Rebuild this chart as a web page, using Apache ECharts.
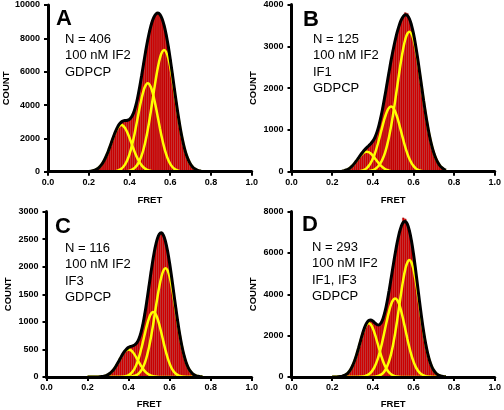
<!DOCTYPE html>
<html><head><meta charset="utf-8">
<script src="https://cdn.jsdelivr.net/npm/echarts@6/dist/echarts.min.js"></script>
<style>html,body{margin:0;padding:0;background:#fff}#c{width:504px;height:410px}</style>
</head><body><div id="c"></div>
<script>
// FRET bin centres (0.01 wide bins)
const fret = [0.20,0.21,0.22,0.23,0.24,0.25,0.26,0.27,0.28,0.29,
  0.30,0.31,0.32,0.33,0.34,0.35,0.36,0.37,0.38,0.39,
  0.40,0.41,0.42,0.43,0.44,0.45,0.46,0.47,0.48,0.49,
  0.50,0.51,0.52,0.53,0.54,0.55,0.56,0.57,0.58,0.59,
  0.60,0.61,0.62,0.63,0.64,0.65,0.66,0.67,0.68,0.69,
  0.70,0.71,0.72,0.73,0.74,0.75,0.76];

const panelLetters = ['A','B','C','D'];
const notesA = ['N = 406','100 nM IF2','GDPCP'];
const notesB = ['N = 125','100 nM IF2','IF1','GDPCP'];
const notesC = ['N = 116','100 nM IF2','IF3','GDPCP'];
const notesD = ['N = 293','100 nM IF2','IF1, IF3','GDPCP'];
const countMax = [10000, 4000, 3000, 8000];
const countStep = [2000, 1000, 500, 2000];
const fretTicks = [0.0, 0.2, 0.4, 0.6, 0.8, 1.0];

// Panel A
const countsA = [17,31,56,95,157,249,378,554,778,1050,
  1368,1708,2049,2370,2642,2850,2980,3050,3074,3088,
  3143,3283,3527,3916,4440,5081,5790,6535,7264,7928,
  8499,8953,9276,9462,9514,9416,9171,8773,8232,7549,
  6765,5903,5013,4136,3307,2565,1929,1402,986,679,
  445,285,175,110,61,34,18];
const fitA = [17,31,56,95,157,249,378,554,778,1050,
  1368,1708,2049,2370,2642,2850,2980,3050,3074,3088,
  3143,3283,3527,3916,4440,5081,5790,6535,7264,7928,
  8499,8953,9276,9462,9514,9416,9171,8773,8232,7549,
  6765,5903,5013,4136,3307,2565,1929,1402,986,679,
  445,285,175,110,61,34,18];
const gA1 = [17,31,56,95,157,249,378,554,778,1050,
  1364,1700,2033,2338,2584,2744,2800,2744,2584,2338,
  2033,1700,1364,1050,778,554,378,249,157,95,
  56,31,17,8,4,2,0,0,0,0,
  0,0,0,0,0,0,0,0,0,0,
  0,0,0,0,0,0,0];
const gA2 = [0,0,0,0,0,0,0,0,0,0,
  4,8,16,32,58,106,180,297,472,716,
  1049,1473,1988,2581,3217,3848,4426,4892,5194,5300,
  5194,4892,4426,3848,3217,2581,1988,1473,1049,716,
  472,297,180,106,58,32,16,8,4,2,
  0,0,0,0,0,0,0];
const gA3 = [0,0,0,0,0,0,0,0,0,0,
  0,0,0,0,0,0,0,9,18,34,
  61,110,175,285,445,679,986,1394,1913,2533,
  3249,4030,4833,5606,6293,6833,7183,7300,7183,6833,
  6293,5606,4833,4030,3249,2533,1913,1394,986,679,
  445,285,175,110,61,34,18];

// Panel B
const countsB = [0,1,2,4,7,14,24,41,65,99,
  143,199,264,333,401,466,525,575,620,668,
  730,818,941,1104,1311,1554,1820,2104,2387,2663,
  2913,3139,3338,3501,3630,3715,3810,3790,3659,3514,
  3308,3042,2736,2399,2050,1704,1382,1091,834,623,
  452,322,221,147,97,60,37];
const fitB = [0,1,2,4,7,14,24,41,65,99,
  143,199,264,333,401,466,525,575,620,668,
  730,818,941,1104,1311,1554,1820,2104,2387,2663,
  2913,3139,3338,3501,3630,3715,3754,3737,3659,3514,
  3308,3042,2736,2399,2050,1704,1382,1091,834,623,
  452,322,221,147,97,60,37];
const gB1 = [0,1,2,4,7,14,24,41,65,99,
  143,197,259,324,384,435,468,480,468,435,
  384,324,259,197,143,99,65,41,24,14,
  7,4,2,1,0,0,0,0,0,0,
  0,0,0,0,0,0,0,0,0,0,
  0,0,0,0,0,0,0];
const gB2 = [0,0,0,0,0,0,0,0,0,0,
  1,2,5,9,17,31,53,87,139,211,
  309,434,585,760,947,1133,1303,1440,1529,1560,
  1529,1440,1303,1133,947,760,585,434,309,211,
  139,87,53,31,17,9,5,2,1,0,
  0,0,0,0,0,0,0];
const gB3 = [0,0,0,0,0,0,0,0,0,0,
  0,0,0,0,0,0,4,8,13,22,
  37,60,97,147,221,322,452,623,834,1089,
  1377,1695,2033,2368,2683,2955,3169,3303,3350,3303,
  3169,2955,2683,2368,2033,1695,1377,1089,834,623,
  452,322,221,147,97,60,37];

// Panel C
const countsC = [0,0,0,0,1,2,4,8,15,25,
  43,68,103,149,206,270,339,406,462,506,
  537,553,565,582,619,689,801,960,1164,1403,
  1660,1916,2154,2356,2503,2592,2613,2567,2455,2283,
  2061,1804,1530,1255,993,757,557,395,268,175,
  110,67,39,22,12,6,3];
const fitC = [0,0,0,0,1,2,4,8,15,25,
  43,68,103,149,206,270,339,406,462,506,
  537,553,565,582,619,689,801,960,1164,1403,
  1660,1916,2154,2356,2503,2592,2613,2567,2455,2283,
  2061,1804,1530,1255,993,757,557,395,268,175,
  110,67,39,22,12,6,3];
const gC1 = [0,0,0,0,1,2,4,8,15,25,
  43,68,103,149,206,270,337,401,453,488,
  500,488,453,401,337,270,206,149,103,68,
  43,25,15,8,4,2,1,0,0,0,
  0,0,0,0,0,0,0,0,0,0,
  0,0,0,0,0,0,0];
const gC2 = [0,0,0,0,0,0,0,0,0,0,
  0,0,0,0,0,1,2,5,9,18,
  34,59,100,159,243,352,485,636,795,945,
  1069,1152,1180,1152,1069,945,795,636,485,352,
  243,159,100,59,34,18,9,5,2,1,
  0,0,0,0,0,0,0];
const gC3 = [0,0,0,0,0,0,0,0,0,0,
  0,0,0,0,0,0,0,0,0,0,
  3,6,12,22,39,67,110,175,266,390,
  548,739,959,1196,1430,1645,1818,1931,1970,1931,
  1818,1645,1430,1196,959,739,548,390,266,175,
  110,67,39,22,12,6,3];

// Panel D
const countsD = [0,3,5,10,21,39,75,130,221,351,
  536,775,1069,1407,1763,2106,2398,2614,2729,2751,
  2702,2613,2538,2519,2607,2818,3159,3613,4157,4756,
  5370,5958,6497,6947,7280,7700,7650,7388,7075,6593,
  5967,5231,4440,3643,2881,2195,1613,1142,774,509,
  319,192,113,62,34,17,8];
const fitD = [0,3,5,10,21,39,75,130,221,351,
  536,775,1069,1407,1763,2106,2398,2614,2729,2751,
  2702,2613,2538,2519,2607,2818,3159,3613,4157,4756,
  5370,5958,6497,6947,7280,7480,7522,7388,7075,6593,
  5967,5231,4440,3643,2881,2195,1613,1142,774,509,
  319,192,113,62,34,17,8];
const gD1 = [0,3,5,10,21,39,75,130,221,351,
  536,775,1069,1401,1752,2083,2356,2538,2600,2538,
  2356,2083,1752,1401,1069,775,536,351,221,130,
  75,39,21,10,5,3,0,0,0,0,
  0,0,0,0,0,0,0,0,0,0,
  0,0,0,0,0,0,0];
const gD2 = [0,0,0,0,0,0,0,0,0,0,
  0,0,0,6,11,23,42,76,129,213,
  338,513,752,1056,1425,1851,2307,2759,3173,3507,
  3724,3800,3724,3507,3173,2759,2307,1851,1425,1056,
  752,513,338,213,129,76,42,23,11,6,
  3,0,0,0,0,0,0];
const gD3 = [0,0,0,0,0,0,0,0,0,0,
  0,0,0,0,0,0,0,0,0,0,
  8,17,34,62,113,192,316,503,763,1119,
  1571,2119,2752,3430,4102,4718,5215,5537,5650,5537,
  5215,4718,4102,3430,2752,2119,1571,1119,763,503,
  316,192,113,62,34,17,8];

const FONT = "'Liberation Sans', Arial, Helvetica, sans-serif";

const panels = [
  {l:46.5, t:5,   w:205.2, h:166.7, counts:countsA, fit:fitA, comps:[gA1,gA2,gA3], notes:notesA, yg:37,   xg:24, lx:56,  ly:19,  nx:65,  ny:39},
  {l:291.5,t:4,   w:206.5, h:167.7, counts:countsB, fit:fitB, comps:[gB1,gB2,gB3], notes:notesB, yg:33.5, xg:24, lx:303, ly:19.5, nx:313, ny:39},
  {l:46.5, t:211.5,w:205.2,h:166.8, counts:countsC, fit:fitC, comps:[gC1,gC2,gC3], notes:notesC, yg:33.5, xg:22, lx:55,  ly:227, nx:65,  ny:248},
  {l:291.5,t:211.5,w:206.5,h:166.8, counts:countsD, fit:fitD, comps:[gD1,gD2,gD3], notes:notesD, yg:33.5, xg:22, lx:302, ly:225, nx:312, ny:247}
];

const option = {
  animation: false,
  backgroundColor: '#fff',
  grid: panels.map(p => ({left:p.l, top:p.t, width:p.w, height:p.h, containLabel:false})),
  xAxis: panels.map((p,i) => ({
    gridIndex:i, type:'value', min:fretTicks[0], max:fretTicks[fretTicks.length-1], interval:0.2, z:5,
    name:'FRET', nameLocation:'middle', nameGap:p.xg,
    nameTextStyle:{fontFamily:FONT, fontWeight:'bold', fontSize:9.5, color:'#000'},
    axisLine:{show:true, onZero:false, lineStyle:{color:'#000', width:3}},
    axisTick:{show:true, length:4, lineStyle:{color:'#000', width:2}},
    axisLabel:{formatter:v => v.toFixed(1), fontFamily:FONT, fontWeight:'bold', fontSize:9, color:'#000', margin:6},
    splitLine:{show:false}
  })),
  yAxis: panels.map((p,i) => ({
    gridIndex:i, type:'value', min:0, max:countMax[i], interval:countStep[i], z:5,
    name:'COUNT', nameLocation:'middle', nameRotate:90, nameGap:p.yg,
    nameTextStyle:{fontFamily:FONT, fontWeight:'bold', fontSize:9.5, color:'#000'},
    axisLine:{show:true, onZero:false, lineStyle:{color:'#000', width:3}},
    axisTick:{show:true, length:4, lineStyle:{color:'#000', width:2}},
    axisLabel:{formatter:v => String(v), fontFamily:FONT, fontWeight:'bold', fontSize:9, color:'#000', margin:8},
    splitLine:{show:false}
  })),
  series: [],
  graphic: []
};

panels.forEach((p,i) => {
  option.series.push({
    type:'bar', xAxisIndex:i, yAxisIndex:i, z:2,
    data: fret.map((x,k) => [x, p.counts[k]]),
    barWidth: 2.1,
    itemStyle:{color:'#d40000', borderColor:'#8a0000', borderWidth:0.3}
  });
  p.comps.forEach(c => {
    option.series.push({
      type:'line', xAxisIndex:i, yAxisIndex:i, z:3, smooth:0.4, showSymbol:false,
      data: fret.map((x,k) => [x, c[k]]),
      lineStyle:{color:'#ffff00', width:2.5}
    });
  });
  option.series.push({
    type:'line', xAxisIndex:i, yAxisIndex:i, z:4, smooth:0.4, showSymbol:false,
    data: fret.map((x,k) => [x, p.fit[k]]),
    lineStyle:{color:'#000', width:3}
  });
  option.graphic.push({
    type:'text', x:p.lx, y:p.ly,
    style:{text:panelLetters[i], fontFamily:FONT, fontWeight:'bold', fontSize:22, fill:'#000', align:'left', verticalAlign:'middle'}
  });
  option.graphic.push({
    type:'text', x:p.nx, y:p.ny - 8.25,
    style:{text:p.notes.join('\n'), fontFamily:FONT, fontSize:13, lineHeight:16.5, fill:'#000', align:'left', verticalAlign:'top'}
  });
});

const chart = echarts.init(document.getElementById('c'), null, {renderer:'canvas'});
chart.setOption(option);
</script>
</body></html>
